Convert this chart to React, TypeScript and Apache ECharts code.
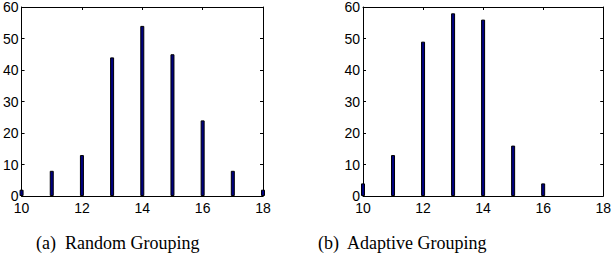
import React, { useEffect, useRef } from "react";
import * as echarts from "echarts";

const sizes = [10, 11, 12, 13, 14, 15, 16, 17, 18];
const randomCounts = [2, 8, 13, 44, 54, 45, 24, 8, 2];
const adaptiveCounts = [4, 13, 49, 58, 56, 16, 4, 0, 0];
const xTicks = [10, 12, 14, 16, 18];
const yTicks = [0, 10, 20, 30, 40, 50, 60];
const captions = ["(a)  Random Grouping", "(b)  Adaptive Grouping"];

const labelFont = { fontFamily: "Liberation Sans", fontSize: 14, color: "#000" };

export default function App() {
  const ref = useRef<HTMLDivElement>(null);
  useEffect(() => {
    document.body.style.margin = "0";
    const chart = echarts.init(ref.current!, undefined, { renderer: "svg" });
    const grids = [
      { left: 20, top: 3, width: 243, height: 193 },
      { left: 363, top: 3, width: 243, height: 193 },
    ];
    const xAxes: any[] = [];
    const yAxes: any[] = [];
    grids.forEach((_, i) => {
      const xBase = {
        type: "value",
        gridIndex: i,
        min: xTicks[0],
        max: xTicks[xTicks.length - 1],
        interval: 2,
        splitLine: { show: false },
        axisLine: { show: true, onZero: false, lineStyle: { color: "#000", width: 1 } },
        axisTick: { show: true, inside: true, length: 3, lineStyle: { color: "#000" } },
      };
      xAxes.push({ ...xBase, position: "bottom", axisLabel: { ...labelFont, margin: 5 } });
      xAxes.push({ ...xBase, position: "top", axisLabel: { show: false } });
      const yBase = {
        type: "value",
        gridIndex: i,
        min: yTicks[0],
        max: yTicks[yTicks.length - 1],
        interval: 10,
        splitLine: { show: false },
        axisLine: { show: true, onZero: false, lineStyle: { color: "#000", width: 1 } },
        axisTick: { show: true, inside: true, length: 3, lineStyle: { color: "#000" } },
      };
      yAxes.push({ ...yBase, position: "left", axisLabel: { ...labelFont, margin: 3 } });
      yAxes.push({ ...yBase, position: "right", axisLabel: { show: false } });
    });
    const mk = (vals: number[], i: number) => ({
      type: "bar",
      xAxisIndex: i * 2,
      yAxisIndex: i * 2,
      barWidth: 4,
      clip: true,
      data: sizes.map((s, k) => [s, vals[k]]).filter((d) => d[1] > 0),
      itemStyle: { color: "#000080", borderColor: "#000", borderWidth: 1 },
    });
    chart.setOption({
      animation: false,
      backgroundColor: "#fff",
      grid: grids,
      xAxis: xAxes,
      yAxis: yAxes,
      series: [mk(randomCounts, 0), mk(adaptiveCounts, 1)],
      graphic: [
        {
          type: "text",
          left: 36,
          top: 234,
          style: { text: captions[0], font: '18px "Liberation Serif"', fill: "#000" },
        },
        {
          type: "text",
          left: 318,
          top: 234,
          style: { text: captions[1], font: '18px "Liberation Serif"', fill: "#000" },
        },
      ],
    });
    return () => chart.dispose();
  }, []);
  return <div ref={ref} style={{ width: 614, height: 262 }} />;
}
